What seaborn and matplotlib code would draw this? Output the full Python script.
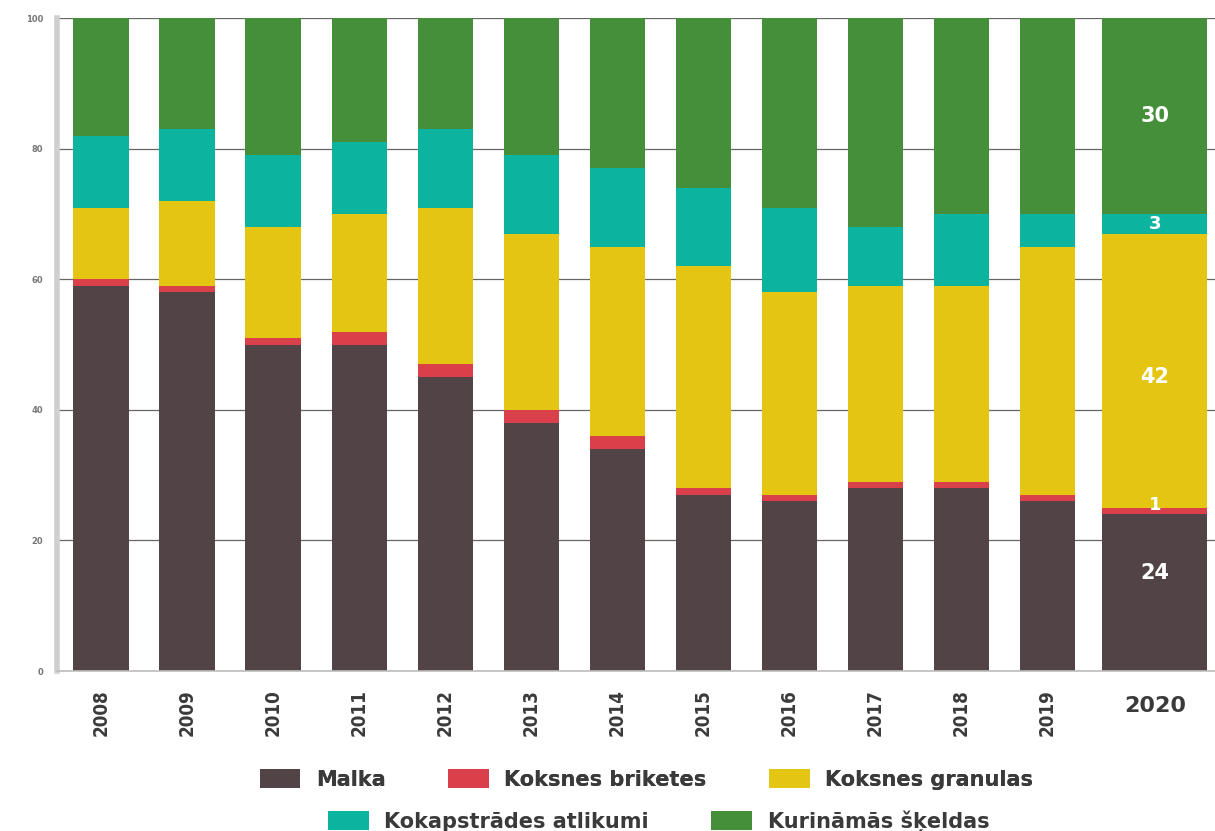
import pandas as pd
import seaborn as sns
import matplotlib.pyplot as plt
import numpy as np
from matplotlib.patches import Patch
from matplotlib.font_manager import FontProperties
from matplotlib.transforms import ScaledTranslation

years = ["2008", "2009", "2010", "2011", "2012", "2013", "2014",
         "2015", "2016", "2017", "2018", "2019", "2020"]
malka = [59, 58, 50, 50, 45, 38, 34, 27, 26, 28, 28, 26, 24]
briketes = [1, 1, 1, 2, 2, 2, 2, 1, 1, 1, 1, 1, 1]
granulas = [11, 13, 17, 18, 24, 27, 29, 34, 31, 30, 30, 38, 42]
atlikumi = [11, 11, 11, 11, 12, 12, 12, 12, 13, 9, 11, 5, 3]
skeldas = [18, 17, 21, 19, 17, 21, 23, 26, 29, 32, 30, 30, 30]

names = ["Malka", "Koksnes briketes", "Koksnes granulas",
         "Kokapstrādes atlikumi", "Kurināmās šķeldas"]
colors = ["#524446", "#d9404a", "#e3c512", "#0cb4a0", "#468f3a"]

sns.set_theme(style="white")

df = pd.DataFrame({
    "year": years,
    names[0]: malka,
    names[1]: briketes,
    names[2]: granulas,
    names[3]: atlikumi,
    names[4]: skeldas,
})
# last bar sits a bit further right
pos = np.arange(len(years), dtype=float)
pos[-1] += 0.25
df["pos"] = pos

cum = df[names].cumsum(axis=1)

fig = plt.figure(figsize=(12.15, 8.31), dpi=100)
ax = fig.add_axes([0.047, 0.1925, 0.953, 0.7855])

# stacked: draw cumulative totals from top layer down
for name, color in zip(names[::-1], colors[::-1]):
    sns.barplot(x=df["pos"], y=cum[name], native_scale=True, color=color,
                width=0.64, saturation=1, linewidth=0, ax=ax)

# the 2020 bar is drawn wider
for p in ax.patches:
    cx = p.get_x() + p.get_width() / 2
    if abs(cx - pos[-1]) < 0.1:
        p.set_width(1.22)
        p.set_x(pos[-1] - 0.61)

ax.set_xlim(-0.51, 12.95)
ax.set_ylim(0, 100)
ax.set_yticks(range(0, 101, 20))
ax.yaxis.grid(True, color="#666666", linewidth=0.9)
ax.set_axisbelow(True)
ax.set_xlabel("")
ax.set_ylabel("")

for s in ["top", "right"]:
    ax.spines[s].set_visible(False)
ax.spines["left"].set_color("#cfcfcf")
ax.spines["left"].set_linewidth(4)
ax.spines["bottom"].set_color("#bdbdbd")
ax.spines["bottom"].set_linewidth(1.2)

ax.tick_params(axis="y", labelsize=6, colors="#777777", length=0, pad=10)
for t in ax.get_yticklabels():
    t.set_fontweight("bold")

ax.set_xticks(pos)
ax.set_xticklabels(years)
ax.tick_params(axis="x", length=0, pad=13)
for i, t in enumerate(ax.get_xticklabels()):
    t.set_fontweight("bold")
    t.set_color("#3a3a3a")
    if i < len(years) - 1:
        t.set_fontstretch("condensed")
        t.set_rotation(90)
        t.set_fontsize(13.5)
    else:
        t.set_fontsize(16)
        t.set_va("top")
        t.set_transform(t.get_transform() + ScaledTranslation(0, -5 / 72, fig.dpi_scale_trans))

# values for 2020
last = len(years) - 1
vals = [malka[last], briketes[last], granulas[last], atlikumi[last], skeldas[last]]
label_y = [15, 25.4, 45, 68.5, 85]
for v, yy in zip(vals, label_y):
    ax.text(pos[-1], yy, str(v), ha="center", va="center", color="white",
            fontsize=15 if v > 5 else 13, fontweight="bold")

prop = FontProperties(family="DejaVu Sans", weight="bold", size=15)
h = [Patch(facecolor=c, edgecolor="none") for c in colors]
leg_kw = dict(loc="center", frameon=False, prop=prop, handlelength=1.95,
              handleheight=1.05, columnspacing=3.0, handletextpad=0.75)
leg1 = fig.legend(h[:3], names[:3], bbox_to_anchor=(0.532, 0.062), ncol=3, **leg_kw)
for t in leg1.get_texts():
    t.set_color("#3a3a3a")
fig.add_artist(leg1)
leg2 = fig.legend(h[3:], names[3:], bbox_to_anchor=(0.542, 0.012), ncol=2, **leg_kw)
for t in leg2.get_texts():
    t.set_color("#3a3a3a")

fig.savefig("out.png", dpi=100)
